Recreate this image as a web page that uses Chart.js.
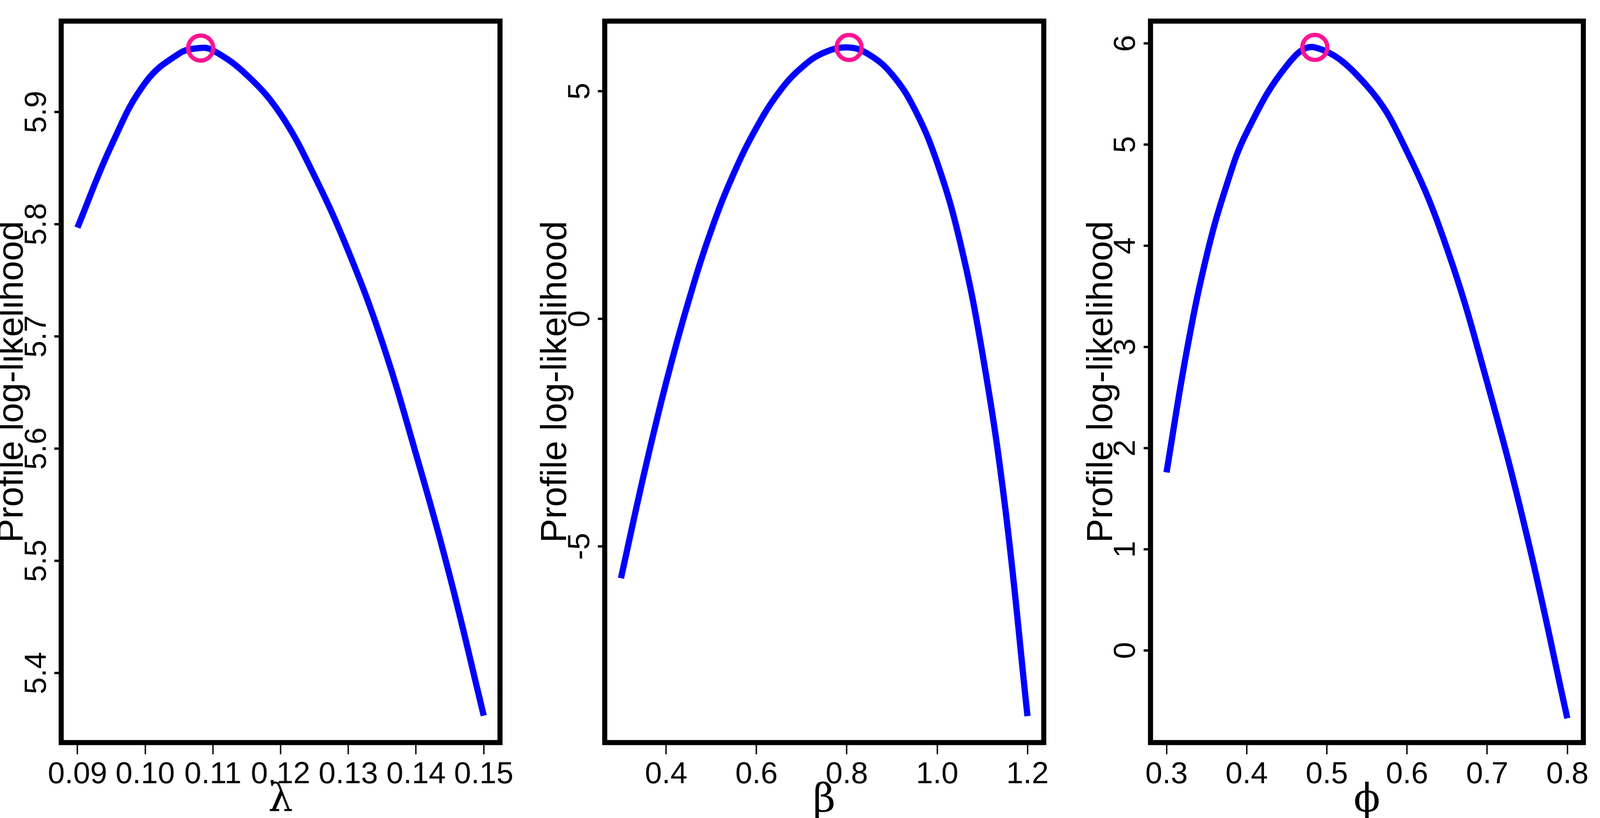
<!DOCTYPE html>
<html><head><meta charset="utf-8">
<script src="https://cdn.jsdelivr.net/npm/chart.js@4/dist/chart.umd.min.js"></script>
<style>
html,body{margin:0;padding:0;background:#fff;width:100%;height:100%;overflow:hidden}
.p{position:absolute;top:0;height:100%}
</style></head><body>
<div class="p" id="d1"><canvas id="c1"></canvas></div>
<div class="p" id="d2"><canvas id="c2"></canvas></div>
<div class="p" id="d3"><canvas id="c3"></canvas></div>
<script>
// Panel 1: lambda
const lambdaX = [0.090,0.095,0.100,0.105,0.108,0.110,0.115,0.120,0.125,0.130,0.135,0.140,0.145,0.150];
const lambdaY = [5.797,5.870,5.926,5.952,5.957,5.955,5.933,5.898,5.843,5.776,5.695,5.595,5.486,5.362];
const lambdaMax = [0.1082, 5.957];
const lambdaTicksX = [0.09,0.10,0.11,0.12,0.13,0.14,0.15];
const lambdaTicksY = [5.4,5.5,5.6,5.7,5.8,5.9];
// Panel 2: beta
const betaX = [0.30,0.35,0.40,0.45,0.50,0.55,0.60,0.65,0.70,0.75,0.805,0.85,0.90,0.95,1.00,1.05,1.10,1.15,1.20];
const betaY = [-5.70,-3.45,-1.40,0.40,1.95,3.20,4.20,4.98,5.52,5.85,5.96,5.80,5.37,4.61,3.43,1.72,-0.75,-4.10,-8.73];
const betaMax = [0.805, 5.96];
const betaTicksX = [0.4,0.6,0.8,1.0,1.2];
const betaTicksY = [-5,0,5];
// Panel 3: phi
const phiX = [0.300,0.325,0.350,0.375,0.400,0.450,0.485,0.550,0.600,0.650,0.700,0.750,0.800];
const phiY = [1.76,2.95,3.90,4.60,5.12,5.78,5.96,5.58,4.93,3.97,2.65,1.12,-0.67];
const phiMax = [0.485, 5.96];
const phiTicksX = [0.3,0.4,0.5,0.6,0.7,0.8];
const phiTicksY = [0,1,2,3,4,5,6];

const FONT = "'Liberation Sans', Arial, sans-serif";
const S = window.innerWidth / 7013;
const H = window.innerHeight / 2093;
[['d1',0,2330],['d2',2330,2340],['d3',4670,2343]].forEach(([id,l,w])=>{
  const e=document.getElementById(id); e.style.left=(l*S)+'px'; e.style.width=(w*S)+'px';
});
function fmt(v, d){ return v.toFixed(d); }

function make(id, xs, ys, mx, tx, ty, xr, yr, yw, rp, xlab, dx, dy){
  const plug = {
    id:'deco',
    afterDraw(ch){
      const c = ch.ctx, a = ch.chartArea, sy = ch.scales.y;
      c.save();
      c.lineWidth = 13*H; c.strokeStyle = '#000';
      c.strokeRect(a.left, a.top, a.right-a.left, a.bottom-a.top);
      c.lineWidth = 6*H;
      ty.forEach(v=>{
        const p = sy.getPixelForValue(v);
        c.beginPath(); c.moveTo(a.left, p); c.lineTo(a.left-30*S, p); c.stroke();
        c.save(); c.translate(a.left-105*S, p); c.rotate(-Math.PI/2);
        c.fillStyle='#000'; c.font = (78*H)+"px "+FONT; c.textAlign='center'; c.textBaseline='middle';
        c.fillText(fmt(v,dy),0,0); c.restore();
      });
      c.save(); c.translate(a.left-212*S, (a.top+a.bottom)/2); c.rotate(-Math.PI/2);
      c.fillStyle='#000'; c.font = (92*H)+"px "+FONT; c.textAlign='center'; c.textBaseline='middle';
      c.fillText('Profile log-likelihood',0,0); c.restore();
      c.fillStyle='#000'; c.font = (100*H)+"px 'DejaVu Serif', serif"; c.textAlign='center'; c.textBaseline='middle';
      c.fillText(xlab, (a.left+a.right)/2, a.bottom+150*H);
      c.restore();
    }
  };
  new Chart(document.getElementById(id), {
    type:'scatter',
    data:{ datasets:[
      { data: xs.map((x,i)=>({x, y:ys[i]})), showLine:true, borderColor:'#0000ff', borderWidth:16*H,
        pointRadius:0, tension:0.4, order:2 },
      { data:[{x:mx[0], y:mx[1]}], pointRadius:32*H, pointBorderWidth:11*H, pointBorderColor:'#ff1493',
        pointBackgroundColor:'rgba(0,0,0,0)', order:1 }
    ]},
    plugins:[plug],
    options:{
      responsive:true, maintainAspectRatio:false, animation:false,
      layout:{ padding:{ top:54*H, right:rp*S, bottom:0, left:0 } },
      plugins:{ legend:{display:false}, tooltip:{enabled:false} },
      scales:{
        x:{ type:'linear', min:xr[0], max:xr[1],
            afterBuildTicks(s){ s.ticks = tx.map(v=>({value:v})); },
            afterFit(s){ s.height = 193*H; },
            grid:{ display:true, drawOnChartArea:false, drawTicks:true, tickLength:30*H, lineWidth:6*S, color:'#000' },
            border:{ display:false },
            ticks:{ color:'#000', font:{ family:FONT, size:78*H }, padding:6*H, maxRotation:0, autoSkip:false,
                    callback:(v)=>fmt(v,dx) } },
        y:{ type:'linear', min:yr[0], max:yr[1],
            afterBuildTicks(s){ s.ticks = ty.map(v=>({value:v})); },
            afterFit(s){ s.width = yw*S; },
            grid:{ display:false }, border:{ display:false },
            ticks:{ display:false } }
      }
    }
  });
}
make('c1', lambdaX, lambdaY, lambdaMax, lambdaTicksX, lambdaTicksY, [0.0876,0.1524], [5.338,5.981], 268, 140, 'λ', 2, 1);
make('c2', betaX, betaY, betaMax, betaTicksX, betaTicksY, [0.264,1.236], [-9.31,6.54], 320, 97, 'β', 1, 0);
make('c3', phiX, phiY, phiMax, phiTicksX, phiTicksY, [0.28,0.82], [-0.91,6.22], 372, 53, 'ϕ', 1, 0);
</script></body></html>
